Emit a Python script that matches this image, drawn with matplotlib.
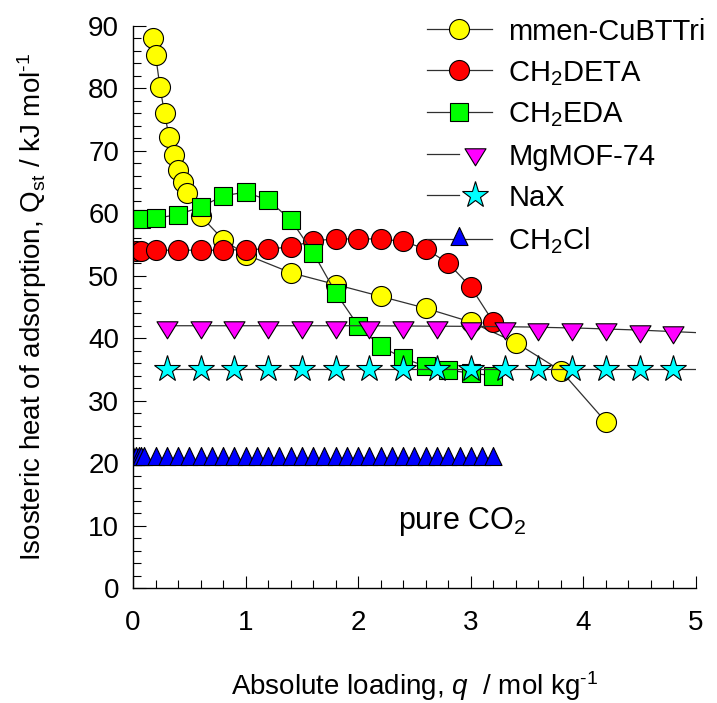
import matplotlib
matplotlib.use('Agg')
import matplotlib.pyplot as plt
from matplotlib.path import Path
from matplotlib.legend_handler import HandlerTuple
from matplotlib.ticker import MultipleLocator

plt.rcParams['font.family'] = ['Liberation Sans', 'DejaVu Sans']
plt.rcParams['mathtext.fontset'] = 'custom'
plt.rcParams['mathtext.rm'] = 'Liberation Sans'
plt.rcParams['mathtext.it'] = 'Liberation Sans:italic'
plt.rcParams['font.size'] = 20

# mmen-CuBTTri
mmen_q = [0.18, 0.2, 0.24, 0.28, 0.32, 0.36, 0.4, 0.44, 0.48, 0.6, 0.8, 1.0,
          1.4, 1.8, 2.2, 2.6, 3.0, 3.4, 3.8, 4.2]
mmen_Q = [88.0, 85.4, 80.2, 76.0, 72.3, 69.4, 67.0, 65.0, 63.2, 59.6, 55.8, 53.4,
          50.5, 48.6, 46.7, 44.8, 42.6, 39.3, 34.8, 26.6]
# CH2DETA
deta_q = [0.03, 0.07, 0.2, 0.4, 0.6, 0.8, 1.0, 1.2, 1.4, 1.6, 1.8, 2.0, 2.2,
          2.4, 2.6, 2.8, 3.0, 3.2]
deta_Q = [54.0, 54.0, 54.1, 54.1, 54.1, 54.1, 54.2, 54.3, 54.6, 55.6, 55.9, 55.9,
          55.9, 55.5, 54.3, 52.0, 48.2, 42.6]
# CH2EDA
eda_q = [0.03, 0.07, 0.2, 0.4, 0.6, 0.8, 1.0, 1.2, 1.4, 1.6, 1.8, 2.0, 2.2,
         2.4, 2.6, 2.8, 3.0, 3.2]
eda_Q = [59.1, 59.1, 59.2, 59.8, 61.0, 62.8, 63.4, 62.1, 59.0, 53.7, 47.3, 42.0,
         38.7, 36.8, 35.5, 34.9, 34.4, 34.0]
# MgMOF-74 (points + fitted curve)
mg_q = [0.3, 0.6, 0.9, 1.2, 1.5, 1.8, 2.1, 2.4, 2.7, 3.0, 3.3, 3.6, 3.9, 4.2,
        4.5, 4.8]
mg_Q = [41.8, 41.8, 41.8, 41.8, 41.8, 41.8, 41.8, 41.8, 41.8, 41.7, 41.6, 41.5,
        41.5, 41.4, 41.2, 41.0]
mg_fit_q = [0.3, 1.0, 2.0, 3.0, 3.5, 4.0, 4.5, 5.0]
mg_fit_Q = [42.0, 42.0, 42.0, 41.9, 41.8, 41.6, 41.3, 40.9]
# NaX (points + fitted curve)
nax_q = [0.3, 0.6, 0.9, 1.2, 1.5, 1.8, 2.1, 2.4, 2.7, 3.0, 3.3, 3.6, 3.9, 4.2,
         4.5, 4.8]
nax_Q = [35.0, 35.0, 35.0, 35.0, 35.0, 35.0, 35.0, 35.0, 35.0, 35.0, 35.0, 35.0,
         35.0, 35.0, 35.0, 35.0]
nax_fit_q = [0.3, 5.0]
nax_fit_Q = [35.1, 35.1]
# CH2Cl
cl_q = [0.0, 0.025, 0.05, 0.075, 0.1, 0.2, 0.3, 0.4, 0.5, 0.6, 0.7, 0.8, 0.9,
        1.0, 1.1, 1.2, 1.3, 1.4, 1.5, 1.6, 1.7, 1.8, 1.9, 2.0, 2.1, 2.2, 2.3,
        2.4, 2.5, 2.6, 2.7, 2.8, 2.9, 3.0, 3.1, 3.2]
cl_Q = [20.7, 20.7, 20.7, 20.7, 20.7, 20.7, 20.7, 20.7, 20.7, 20.7, 20.7, 20.7,
        20.7, 20.7, 20.7, 20.7, 20.7, 20.7, 20.7, 20.7, 20.7, 20.7, 20.7, 20.7,
        20.7, 20.7, 20.7, 20.7, 20.7, 20.7, 20.7, 20.7, 20.7, 20.7, 20.7, 20.7]

# triangles centred on their centroid
codes = [Path.MOVETO, Path.LINETO, Path.LINETO, Path.CLOSEPOLY]
tri_down = Path([(-10.5, 5.7), (10.5, 5.7), (0, -11.3), (0, 0)], codes)
tri_up = Path([(-8.5, -6.0), (8.5, -6.0), (0, 12.0), (0, 0)], codes)

lc = '#303030'
lw = 0.9
mew = 0.8

fig = plt.figure(figsize=(7.17, 7.03), dpi=100)
ax = fig.add_axes([0.1855, 0.1636, 0.7852, 0.7994])

h1, = ax.plot(mmen_q, mmen_Q, '-', color=lc, lw=lw, marker='o', ms=14.4,
              mfc='#ffff00', mec='black', mew=mew)
h2, = ax.plot(deta_q, deta_Q, '-', color=lc, lw=lw, marker='o', ms=14.4,
              mfc='#ff0000', mec='black', mew=mew)
h3, = ax.plot(eda_q, eda_Q, '-', color=lc, lw=lw, marker='s', ms=12.5,
              mfc='#00ff00', mec='black', mew=mew)
l4, = ax.plot(mg_fit_q, mg_fit_Q, '-', color=lc, lw=lw)
m4, = ax.plot(mg_q, mg_Q, ls='none', marker=tri_down, ms=16.3,
              mfc='#ff00ff', mec='black', mew=mew)
l5, = ax.plot(nax_fit_q, nax_fit_Q, '-', color=lc, lw=lw)
m5, = ax.plot(nax_q, nax_Q, ls='none', marker='*', ms=20,
              mfc='#00ffff', mec='black', mew=mew)
h6, = ax.plot(cl_q, cl_Q, '-', color=lc, lw=lw, marker=tri_up, ms=17.3,
              mfc='#0000ff', mec='black', mew=mew)

ax.set_xlim(0, 5)
ax.set_ylim(0, 90)
ax.xaxis.set_major_locator(MultipleLocator(1))
ax.xaxis.set_minor_locator(MultipleLocator(0.2))
ax.yaxis.set_major_locator(MultipleLocator(10))
ax.yaxis.set_minor_locator(MultipleLocator(2))
ax.spines['top'].set_visible(False)
ax.spines['right'].set_visible(False)
ax.spines['left'].set_linewidth(1.0)
ax.spines['bottom'].set_linewidth(1.0)
ax.tick_params(which='both', direction='in', width=0.8, labelsize=20)
ax.tick_params(which='major', length=9)
ax.tick_params(which='minor', length=6)
ax.tick_params(axis='x', pad=16)
ax.tick_params(axis='y', pad=10)

ax.set_xlabel(r'Absolute loading, $\mathit{q}$  / mol kg$^{\text{-}1}$', fontsize=20)
ax.set_ylabel(r'Isosteric heat of adsorption, Q$_{\mathrm{st}}$ / kJ mol$^{\text{-}1}$',
              fontsize=20)
ax.xaxis.set_label_coords(0.5, -0.145)
ax.yaxis.set_label_coords(-0.15, 0.5)

ax.text(2.35, 10.6, r'pure CO$_2$', fontsize=22, va='center', ha='left')

handles = [h1, h2, h3, (l4, m4), (l5, m5), h6]
labels = ['mmen-CuBTTri', r'CH$_2$DETA', r'CH$_2$EDA', 'MgMOF-74', 'NaX',
          r'CH$_2$Cl']
fig.legend(handles, labels, loc='upper left', bbox_to_anchor=(0.595, 0.975),
           bbox_transform=fig.transFigure, frameon=False, fontsize=21,
           handlelength=2.23, handletextpad=0.57, labelspacing=0.45,
           borderpad=0, borderaxespad=0,
           handler_map={tuple: HandlerTuple(ndivide=None)})

fig.savefig('out.png', dpi=100)
